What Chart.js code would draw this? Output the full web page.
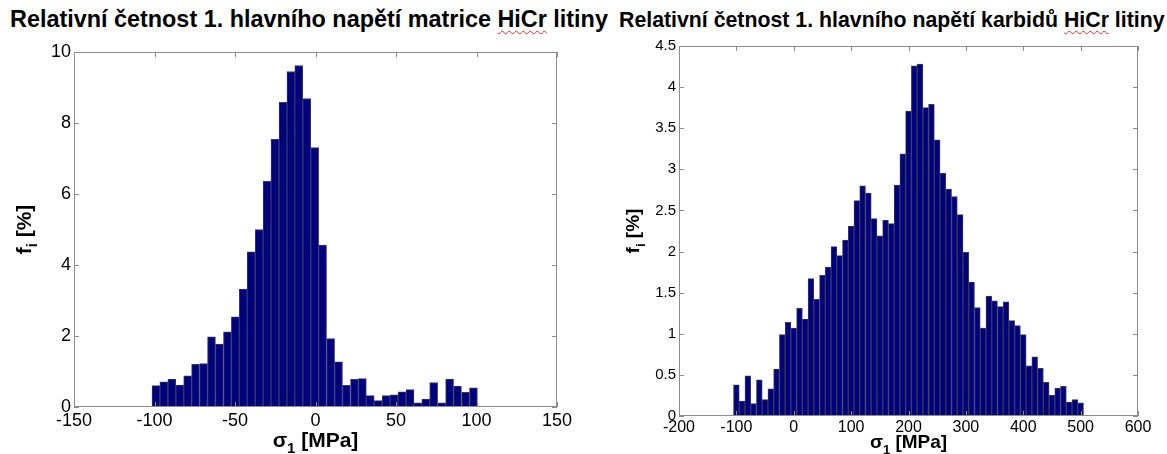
<!DOCTYPE html>
<html>
<head>
<meta charset="utf-8">
<script src="https://cdn.jsdelivr.net/npm/chart.js@4/dist/chart.umd.min.js"></script>
<style>
  body { margin: 0; background: #fff; width: 1167px; height: 454px; overflow: hidden; position: relative;
         font-family: "Liberation Sans", Arial, sans-serif; }
  .title { position: absolute; font-weight: bold; color: #000; white-space: nowrap; }
  .spell { text-decoration: underline wavy #e03030; text-decoration-thickness: 1px; text-underline-offset: 3px; }
  canvas { position: absolute; top: 0; }
</style>
</head>
<body>
<div class="title" style="left:10px; top:6px; font-size:23.4px;">Relativní četnost 1. hlavního napětí matrice <span class="spell">HiCr</span> litiny</div>
<div class="title" style="left:619px; top:8px; font-size:21.3px;">Relativní četnost 1. hlavního napětí karbidů <span class="spell">HiCr</span> litiny</div>
<canvas id="chartMatrix" width="600" height="454" style="left:0"></canvas>
<canvas id="chartCarbide" width="567" height="454" style="left:600px"></canvas>
<script>
// histogram 1 - matrix, bin centres [MPa] and relative frequency [%]
const matrixCenters = [-99.1, -94.2, -89.2, -84.3, -79.4, -74.5, -69.5, -64.6, -59.7, -54.7,
  -49.8, -44.9, -40.0, -35.0, -30.1, -25.2, -20.2, -15.3, -10.4, -5.4,
  -0.5, 4.4, 9.4, 14.3, 19.2, 24.2, 29.1, 34.0, 38.9, 43.9,
  48.8, 53.7, 58.7, 63.6, 68.5, 73.4, 78.4, 83.3, 88.2, 93.2, 98.1];
const matrixFreq = [0.60, 0.71, 0.79, 0.62, 0.88, 1.20, 1.22, 1.98, 1.77, 2.12,
  2.54, 3.32, 4.37, 5.00, 6.36, 7.54, 8.58, 9.45, 9.62, 8.69,
  7.31, 4.56, 1.93, 1.27, 0.61, 0.78, 0.80, 0.32, 0.18, 0.32,
  0.34, 0.43, 0.49, 0.12, 0.22, 0.69, 0.12, 0.79, 0.59, 0.41, 0.54];
const matrixTicksX = [-150, -100, -50, 0, 50, 100, 150];
const matrixTicksY = [0, 2, 4, 6, 8, 10];

// histogram 2 - carbides
const carbideCenters = [-100, -90, -80, -70, -60, -50, -40, -30, -20, -10,
  0, 10, 20, 30, 40, 50, 60, 70, 80, 90,
  100, 110, 120, 130, 140, 150, 160, 170, 180, 190,
  200, 210, 220, 230, 240, 250, 260, 270, 280, 290,
  300, 310, 320, 330, 340, 350, 360, 370, 380, 390,
  400, 410, 420, 430, 440, 450, 460, 470, 480, 490, 500];
const carbideFreq = [0.38, 0.18, 0.49, 0.15, 0.44, 0.20, 0.33, 0.57, 0.99, 1.14,
  1.07, 1.31, 1.18, 1.67, 1.42, 1.71, 1.81, 2.06, 1.95, 2.14,
  2.31, 2.62, 2.80, 2.71, 2.40, 2.19, 2.38, 2.34, 2.81, 3.19,
  3.71, 4.26, 4.28, 3.75, 3.79, 3.36, 2.95, 2.76, 2.67, 2.45,
  1.99, 1.63, 1.32, 1.07, 1.46, 1.40, 1.33, 1.39, 1.16, 1.10,
  0.99, 0.61, 0.72, 0.58, 0.41, 0.25, 0.34, 0.36, 0.17, 0.20, 0.16];
const carbideTicksX = [-200, -100, 0, 100, 200, 300, 400, 500, 600];
const carbideTicksY = [0, 0.5, 1, 1.5, 2, 2.5, 3, 3.5, 4, 4.5];

const FONT = '"Liberation Sans", Arial, sans-serif';
const BAR_FILL = '#00007f';
const BAR_EDGE = '#3a3a55';
const FRAME = '#8c8c8c';

// box + inward ticks on all four sides, axis labels with subscripts
const matlabFrame = {
  id: 'matlabFrame',
  afterDraw(chart, args, opts) {
    const { ctx, chartArea: a, scales } = chart;
    ctx.save();
    ctx.strokeStyle = FRAME;
    ctx.lineWidth = 1;
    ctx.strokeRect(a.left + 0.5, a.top + 0.5, a.right - a.left - 1, a.bottom - a.top - 1);
    ctx.beginPath();
    const tl = opts.tick;
    scales.x.ticks.forEach(t => {
      const px = Math.round(scales.x.getPixelForValue(t.value)) + 0.5;
      ctx.moveTo(px, a.bottom); ctx.lineTo(px, a.bottom - tl);
      ctx.moveTo(px, a.top); ctx.lineTo(px, a.top + tl);
    });
    scales.y.ticks.forEach(t => {
      const py = Math.round(scales.y.getPixelForValue(t.value)) + 0.5;
      ctx.moveTo(a.left, py); ctx.lineTo(a.left + tl, py);
      ctx.moveTo(a.right, py); ctx.lineTo(a.right - tl, py);
    });
    ctx.stroke();

    ctx.fillStyle = '#000';
    ctx.textBaseline = 'alphabetic';
    const big = 'bold ' + opts.size + 'px ' + FONT;
    const small = 'bold ' + Math.round(opts.size * 0.7) + 'px ' + FONT;
    const drawSub = (main, sub, rest, cx, base) => {
      ctx.font = big; const w1 = ctx.measureText(main).width; const w3 = ctx.measureText(rest).width;
      ctx.font = small; const w2 = ctx.measureText(sub).width;
      let x = cx - (w1 + w2 + w3) / 2;
      ctx.font = big; ctx.fillText(main, x, base); x += w1;
      ctx.font = small; ctx.fillText(sub, x, base + opts.size * 0.3); x += w2;
      ctx.font = big; ctx.fillText(rest, x, base);
    };
    drawSub('σ', '1', ' [MPa]', (a.left + a.right) / 2, opts.xBase);
    ctx.translate(opts.yX, (a.top + a.bottom) / 2);
    ctx.rotate(-Math.PI / 2);
    drawSub('f', 'i', ' [%]', 0, 0);
    ctx.restore();
  }
};

function histogram(id, centers, freq, ticksX, ticksY, s) {
  return new Chart(document.getElementById(id), {
    type: 'bar',
    data: {
      datasets: [{
        data: centers.map((c, i) => ({ x: c, y: freq[i] })),
        backgroundColor: BAR_FILL,
        borderColor: BAR_EDGE,
        borderWidth: 1,
        barPercentage: 1,
        categoryPercentage: 1
      }]
    },
    options: {
      responsive: false,
      animation: false,
      layout: { padding: { top: s.top, right: s.right, left: 0, bottom: 0 } },
      plugins: {
        legend: { display: false },
        tooltip: { enabled: false },
        matlabFrame: { tick: 5, size: s.titleSize, xBase: s.xBase, yX: s.yX }
      },
      scales: {
        x: {
          type: 'linear',
          offset: false,
          min: ticksX[0], max: ticksX[ticksX.length - 1],
          afterBuildTicks: sc => { sc.ticks = ticksX.map(v => ({ value: v })); },
          afterFit: sc => { sc.height = s.xH; },
          grid: { display: false, drawTicks: false, offset: false },
          border: { display: false },
          ticks: { color: '#000', font: { family: FONT, size: s.tickSize }, padding: s.xPad, maxRotation: 0,
                   callback: v => String(v) }
        },
        y: {
          min: ticksY[0], max: ticksY[ticksY.length - 1],
          afterBuildTicks: sc => { sc.ticks = ticksY.map(v => ({ value: v })); },
          afterFit: sc => { sc.width = s.yW; },
          grid: { display: false, drawTicks: false },
          border: { display: false },
          ticks: { color: '#000', font: { family: FONT, size: s.yTickSize }, padding: 3,
                   callback: v => String(v) }
        }
      }
    },
    plugins: [matlabFrame]
  });
}

histogram('chartMatrix', matrixCenters, matrixFreq, matrixTicksX, matrixTicksY,
  { top: 52, right: 43, xH: 47, yW: 74, tickSize: 18, yTickSize: 18, xPad: 3, titleSize: 21, xBase: 447, yX: 31 });
histogram('chartCarbide', carbideCenters, carbideFreq, carbideTicksX, carbideTicksY,
  { top: 46, right: 29, xH: 38, yW: 79, tickSize: 16, yTickSize: 15, xPad: 2, titleSize: 19, xBase: 448, yX: 39 });
</script>
</body>
</html>
